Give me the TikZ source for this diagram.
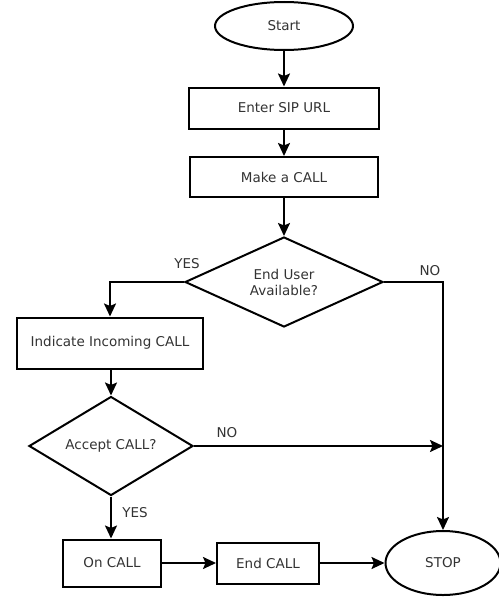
\documentclass[tikz,border=0pt]{standalone}
\usepackage{fontspec}
\setmainfont{DejaVu Sans}
\usetikzlibrary{shapes.geometric,arrows.meta,calc}
\begin{document}
\begin{tikzpicture}[x=1pt,y=-1pt,
  every node/.style={font=\fontsize{13.5}{16}\selectfont, text=black!80},
  line/.style={draw=black, line width=2pt},
  arr/.style={line, -{Stealth[length=13pt,width=12pt,inset=2.5pt]}},
  oval/.style={ellipse, draw, line width=2pt, inner sep=0pt},
  box/.style={rectangle, draw, line width=2pt, inner sep=0pt},
  dia/.style={diamond, draw, line width=2pt, inner sep=0pt, align=center},
  lab/.style={font=\fontsize{13.5}{16}\selectfont, inner sep=0pt}
]
\useasboundingbox (0,0) rectangle (498,597);
\node[oval, minimum width=138pt, minimum height=48pt] (start) at (284,26) {Start};
\node[box, minimum width=190pt, minimum height=41pt] (enter) at (284,108) {Enter SIP URL};
\node[box, minimum width=188pt, minimum height=40pt] (make) at (284,177) {Make a CALL};
\node[dia, minimum width=198pt, minimum height=90pt, aspect=2.2] (d1) at (284,282) {End User\\Available?};
\node[box, minimum width=186pt, minimum height=51pt] (ind) at (110,343) {Indicate Incoming CALL};
\node[dia, minimum width=164pt, minimum height=99pt, aspect=1.7] (d2) at (111,446) {Accept CALL?};
\node[box, minimum width=98pt, minimum height=47pt] (oncall) at (112,563) {On CALL};
\node[box, minimum width=102pt, minimum height=41pt] (endcall) at (268,563) {End CALL};
\node[oval, minimum width=115pt, minimum height=64pt] (stop) at (443,563) {STOP};

\node[lab] (yes1) at (187,264) {YES};
\node[lab] (no1) at (430,271) {NO};
\node[lab] (no2) at (227,433) {NO};
\node[lab] (yes2) at (135,513) {YES};

\coordinate (j) at (stop.north |- d2.east);

\draw[arr] (start) -- (enter);
\draw[arr] (enter) -- (make);
\draw[arr] (make) -- (d1);
\draw[arr] (d1.west) -| (ind.north);
\draw[arr] (d1.east) -| (stop.north);
\draw[arr] (ind.south) -- (ind.south -| d2.north) -- (d2.north);
\draw[arr] (d2.east) -- (j);
\draw[arr] (d2.south) -- (d2.south |- oncall.north);
\draw[arr] (oncall) -- (endcall);
\draw[arr] (endcall) -- (stop);
\end{tikzpicture}
\end{document}
